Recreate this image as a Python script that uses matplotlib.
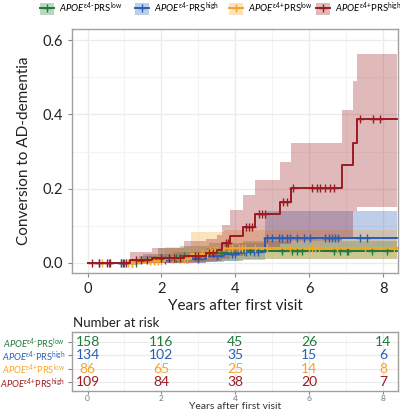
import numpy as np
import matplotlib
matplotlib.use("Agg")
import matplotlib.pyplot as plt
from matplotlib.patches import Patch
from matplotlib.lines import Line2D

plt.rcParams['font.family'] = ['Lato', 'DejaVu Sans']
plt.rcParams['mathtext.fontset'] = 'custom'
plt.rcParams['mathtext.rm'] = 'Lato'
plt.rcParams['mathtext.it'] = 'Lato:italic'
plt.rcParams['mathtext.bf'] = 'Lato:bold'

HY = '\u2010'
# ---------------- data ----------------
labels = [r'$\mathit{APOE}^{\mathrm{\varepsilon 4' + HY + r'}}\mathrm{PRS}^{\mathrm{low}}$',
          r'$\mathit{APOE}^{\mathrm{\varepsilon 4' + HY + r'}}\mathrm{PRS}^{\mathrm{high}}$',
          r'$\mathit{APOE}^{\mathrm{\varepsilon 4{+}}}\mathrm{PRS}^{\mathrm{low}}$',
          r'$\mathit{APOE}^{\mathrm{\varepsilon 4{+}}}\mathrm{PRS}^{\mathrm{high}}$']
colors = ['#1E7B3A', '#2A5DB8', '#F2A529', '#9B1B20']

green_t = [0, 1.4, 1.9, 2.5, 3.3, 4.2, 8.38]
green_s = [0, 0.007, 0.013, 0.020, 0.027, 0.033, 0.033]
green_lo = [0, 0, 0, 0.002, 0.006, 0.010, 0.010]
green_hi = [0, 0.020, 0.039, 0.045, 0.055, 0.060, 0.060]
green_cens = [0.9, 1.3, 1.8, 2.2, 2.4, 2.6, 2.9, 3.1, 3.4, 3.6, 3.9, 4.22, 4.4,
              5.26, 5.53, 5.67, 5.8, 6.66, 6.84, 7.02, 7.06, 7.69, 8.1]

blue_t = [0, 1.5, 2.3, 3.2, 3.7, 4.1, 4.81, 8.38]
blue_s = [0, 0.008, 0.012, 0.018, 0.024, 0.030, 0.066, 0.066]
blue_lo = [0, 0, 0, 0.002, 0.005, 0.008, 0.030, 0.030]
blue_hi = [0, 0.025, 0.030, 0.040, 0.048, 0.055, 0.140, 0.140]
blue_cens = [0.3, 0.58, 0.9, 1.0, 1.2, 1.7, 2.1, 2.7, 3.0, 3.5, 3.9, 4.0, 4.3, 4.5,
             4.6, 4.86, 5.0, 5.17, 5.26, 5.4, 5.49, 5.67, 5.85, 6.03, 6.43, 6.52,
             6.61, 6.7, 6.79, 7.38, 7.56]

yellow_t = [0, 1.6, 2.1, 2.8, 3.3, 3.7, 8.38]
yellow_s = [0, 0.006, 0.012, 0.025, 0.035, 0.040, 0.040]
yellow_lo = [0, 0, 0, 0.003, 0.008, 0.011, 0.011]
yellow_hi = [0, 0.025, 0.043, 0.084, 0.084, 0.090, 0.090]
yellow_cens = [0.4, 1.1, 1.2, 1.7, 1.8, 1.9, 2.0, 2.3, 2.5, 2.6, 2.7, 3.1, 3.24,
               3.32, 3.41, 3.5, 3.82, 3.91, 4.09, 4.18, 4.27, 4.54, 4.86, 5.49,
               5.98, 6.07, 6.16, 6.25, 6.75, 7.51, 8.3]

red_t = [0, 1.15, 1.75, 2.6, 3.2, 3.5, 3.65, 3.86, 4.2, 4.54, 5.2, 5.5, 6.88, 7.18, 7.29, 8.38]
red_s = [0, 0.008, 0.013, 0.020, 0.028, 0.036, 0.054, 0.073, 0.098, 0.131, 0.165,
         0.201, 0.264, 0.324, 0.387, 0.387]
red_lo = [0, 0, 0, 0, 0.002, 0.005, 0.010, 0.018, 0.028, 0.040, 0.050, 0.060,
          0.070, 0.140, 0.150, 0.150]
red_hi = [0, 0.029, 0.040, 0.059, 0.065, 0.075, 0.102, 0.143, 0.183, 0.223, 0.273,
          0.324, 0.413, 0.490, 0.562, 0.562]
red_cens = [0.13, 0.31, 0.53, 0.62, 0.95, 1.05, 1.3, 1.45, 1.6, 2.0, 2.2, 2.35, 2.5,
            2.9, 3.0, 3.3, 3.4, 3.75, 3.8, 4.28, 4.38, 4.46, 4.63, 4.72, 4.8, 5.3,
            5.4, 5.55, 6.07, 6.2, 6.3, 6.42, 6.55, 6.68, 7.38, 7.73, 7.92]

risk_times = [0, 2, 4, 6, 8]
risk_green = [158, 116, 45, 26, 14]
risk_blue = [134, 102, 35, 15, 6]
risk_yellow = [86, 65, 25, 14, 8]
risk_red = [109, 84, 38, 20, 7]

series = [
    (green_t, green_s, green_lo, green_hi, green_cens),
    (blue_t, blue_s, blue_lo, blue_hi, blue_cens),
    (yellow_t, yellow_s, yellow_lo, yellow_hi, yellow_cens),
    (red_t, red_s, red_lo, red_hi, red_cens),
]
risks = [risk_green, risk_blue, risk_yellow, risk_red]

# ---------------- figure ----------------
W, H = 400, 413
fig = plt.figure(figsize=(W / 100, H / 100), dpi=100)

def fx(px):
    return px / W

def fy(py):
    return 1 - py / H

ax = fig.add_axes([fx(72), fy(273), fx(398) - fx(72), fy(29) - fy(273)])
grid_c = '#EBEBEB'
for s in ax.spines.values():
    s.set_color('#A0A0A0')
    s.set_linewidth(1.0)

ax.set_xlim(-0.42, 8.4)
ax.set_ylim(-0.027, 0.63)
ax.set_xticks([0, 2, 4, 6, 8])
ax.set_xticks([1, 3, 5, 7], minor=True)
ax.set_yticks([0, 0.2, 0.4, 0.6])
ax.set_yticklabels(['0.0', '0.2', '0.4', '0.6'])
ax.set_yticks([0.1, 0.3, 0.5], minor=True)
ax.grid(True, which='major', color=grid_c, lw=1.0)
ax.grid(True, which='minor', color='#F3F3F3', lw=0.8)
ax.set_axisbelow(True)
ax.tick_params(which='major', length=3, color='#888888', labelsize=10.5, labelcolor='#222222')
ax.tick_params(which='minor', length=0)

for (t, s, lo, hi, c), col in zip(series, colors):
    ax.fill_between(t, lo, hi, step='post', color=col, alpha=0.3, lw=0)

for (t, s, lo, hi, c), col in zip(series, colors):
    ax.step(t, s, where='post', color=col, lw=1.4)
    ta = np.asarray(t)
    sa = np.asarray(s)
    idx = np.searchsorted(ta, np.asarray(c), side='right') - 1
    ax.plot(c, sa[idx], ls='none', marker='+', ms=5.5, mew=1.0, color=col)

ax.set_ylabel('Conversion to AD-dementia', fontsize=11, color='#222222', labelpad=8)
ax.set_xlabel('Years after first visit', fontsize=11, color='#222222', labelpad=2)

# legend: one entry per group, placed along the top
key_left_px = [40, 135, 229, 316]
for lab, col, kx in zip(labels, colors, key_left_px):
    p = Patch(facecolor=col, alpha=0.3, edgecolor='none')
    l = Line2D([], [], color=col, lw=1.4, marker='+', ms=6, mew=1.0)
    fig.legend([(p, l)], [lab], loc='center left', bbox_to_anchor=(fx(kx), fy(8)),
               frameon=False, fontsize=6.8, handlelength=1.5, handleheight=1.6,
               handletextpad=0.5, borderpad=0.0, borderaxespad=0.0)

# risk table
rax = fig.add_axes([fx(72), fy(391), fx(398) - fx(72), fy(332) - fy(391)])
for s in rax.spines.values():
    s.set_color('#A0A0A0')
    s.set_linewidth(1.0)
rax.set_xlim(-0.42, 8.4)
rax.set_ylim(0.32, 4.75)
rax.set_xticks([0, 2, 4, 6, 8])
rax.set_xticks([1, 3, 5, 7], minor=True)
rax.set_yticks([4, 3, 2, 1])
rax.set_yticklabels(labels)
rax.grid(True, which='major', color=grid_c, lw=0.8)
rax.grid(True, which='minor', color='#F3F3F3', lw=0.6)
rax.set_axisbelow(True)
rax.tick_params(axis='x', which='major', length=2, color='#888888', labelsize=6,
                labelcolor='#777777', pad=1)
rax.tick_params(axis='y', which='major', length=3, color='#888888', labelsize=6.7, pad=2)
rax.tick_params(which='minor', length=0)
for tl, col in zip(rax.get_yticklabels(), colors):
    tl.set_color(col)
for row, (r, col) in enumerate(zip(risks, colors)):
    for tx, n in zip(risk_times, r):
        rax.text(tx, 4 - row, str(n), ha='center', va='center', color=col, fontsize=10)
rax.set_xlabel('Years after first visit', fontsize=7.5, color='#333333', labelpad=0)
fig.text(fx(73), fy(323), 'Number at risk', fontsize=9.5, color='#222222',
         ha='left', va='center')

fig.savefig('out.png', dpi=100)
